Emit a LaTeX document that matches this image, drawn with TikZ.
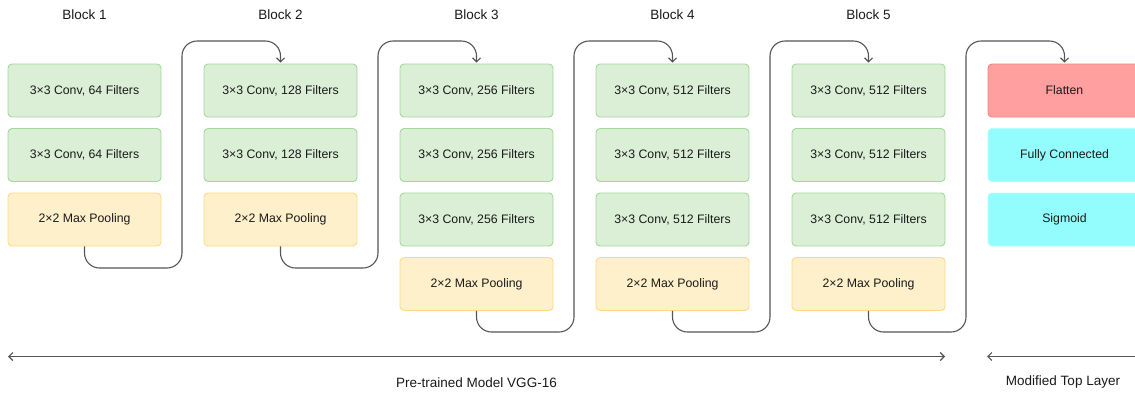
\documentclass[tikz,border=0pt]{standalone}
\usepackage{fontspec}
\setmainfont{Liberation Sans}
\usetikzlibrary{arrows.meta}
\definecolor{gfill}{HTML}{DAEFD6}
\definecolor{gline}{HTML}{A3D89B}
\definecolor{yfill}{HTML}{FEF0CA}
\definecolor{yline}{HTML}{FBDB85}
\definecolor{rfill}{HTML}{FF9F9F}
\definecolor{rline}{HTML}{FF8080}
\definecolor{cfill}{HTML}{92FDFC}
\definecolor{cline}{HTML}{B4FEFE}
\definecolor{ink}{HTML}{1A1A1A}
\definecolor{wire}{HTML}{555555}
\tikzset{
  layer/.style={minimum width=153pt, minimum height=53pt, inner sep=0pt,
    rounded corners=4pt, line width=0.9pt, font=\fontsize{12.3}{14}\selectfont, text=ink},
  conv/.style={layer, fill=gfill, draw=gline},
  pool/.style={layer, fill=yfill, draw=yline},
  flat/.style={layer, fill=rfill, draw=rline},
  dense/.style={layer, fill=cfill, draw=cline},
  title/.style={font=\fontsize{13.5}{15}\selectfont, text=ink},
  conn/.style={draw=wire, line width=1.1pt, rounded corners=15pt,
    -{Straight Barb[length=4pt,width=8pt]}, shorten >=1pt},
  span/.style={draw=wire, line width=1.1pt,
    {Straight Barb[length=4pt,width=8pt]}-{Straight Barb[length=4pt,width=8pt]}}
}
\begin{document}
\begin{tikzpicture}[x=1pt,y=-1pt]
\useasboundingbox (0,0) rectangle (1135,392);
\clip (0,0) rectangle (1135,392);
% block titles
\node[title] (t1) at (84.5,15) {Block 1};
\node[title] (t2) at (280.5,15) {Block 2};
\node[title] (t3) at (476.5,15) {Block 3};
\node[title] (t4) at (672.5,15) {Block 4};
\node[title] (t5) at (868.5,15) {Block 5};
% Block 1
\node[conv] (a1) at (84.5,90.5) {3×3 Conv, 64 Filters};
\node[conv] (a2) at (84.5,155) {3×3 Conv, 64 Filters};
\node[pool] (a3) at (84.5,219.5) {2×2 Max Pooling};
% Block 2
\node[conv] (b1) at (280.5,90.5) {3×3 Conv, 128 Filters};
\node[conv] (b2) at (280.5,155) {3×3 Conv, 128 Filters};
\node[pool] (b3) at (280.5,219.5) {2×2 Max Pooling};
% Block 3
\node[conv] (c1) at (476.5,90.5) {3×3 Conv, 256 Filters};
\node[conv] (c2) at (476.5,155) {3×3 Conv, 256 Filters};
\node[conv] (c3) at (476.5,219.5) {3×3 Conv, 256 Filters};
\node[pool] (c4) at (476.5,284) {2×2 Max Pooling};
% Block 4
\node[conv] (d1) at (672.5,90.5) {3×3 Conv, 512 Filters};
\node[conv] (d2) at (672.5,155) {3×3 Conv, 512 Filters};
\node[conv] (d3) at (672.5,219.5) {3×3 Conv, 512 Filters};
\node[pool] (d4) at (672.5,284) {2×2 Max Pooling};
% Block 5
\node[conv] (e1) at (868.5,90.5) {3×3 Conv, 512 Filters};
\node[conv] (e2) at (868.5,155) {3×3 Conv, 512 Filters};
\node[conv] (e3) at (868.5,219.5) {3×3 Conv, 512 Filters};
\node[pool] (e4) at (868.5,284) {2×2 Max Pooling};
% Top layer
\node[flat] (f1) at (1064.5,90.5) {Flatten};
\node[dense] (f2) at (1064.5,155) {Fully Connected};
\node[dense] (f3) at (1064.5,219.5) {Sigmoid};
% connector turning points
\coordinate (lo1) at (182,268);  \coordinate (hi1) at (182,41);
\coordinate (lo2) at (378,268);  \coordinate (hi2) at (378,41);
\coordinate (lo3) at (574,332);  \coordinate (hi3) at (574,41);
\coordinate (lo4) at (770,332);  \coordinate (hi4) at (770,41);
\coordinate (lo5) at (966,332);  \coordinate (hi5) at (966,41);
\draw[conn] (a3.south) |- (lo1) -- (hi1) -| (b1.north);
\draw[conn] (b3.south) |- (lo2) -- (hi2) -| (c1.north);
\draw[conn] (c4.south) |- (lo3) -- (hi3) -| (d1.north);
\draw[conn] (d4.south) |- (lo4) -- (hi4) -| (e1.north);
\draw[conn] (e4.south) |- (lo5) -- (hi5) -| (f1.north);
% spans
\coordinate (sL) at (8,356.5);   \coordinate (sR) at (945,356.5);
\coordinate (mL) at (987,356.5); \coordinate (mR) at (1141,356.5);
\draw[span] (sL) -- (sR);
\draw[span] (mL) -- (mR);
\node[title] (pre) at (476.5,382.5) {Pre-trained Model VGG-16};
\node[title] (mod) at (1063,382.5) {Modified Top Layer};
\end{tikzpicture}
\end{document}
